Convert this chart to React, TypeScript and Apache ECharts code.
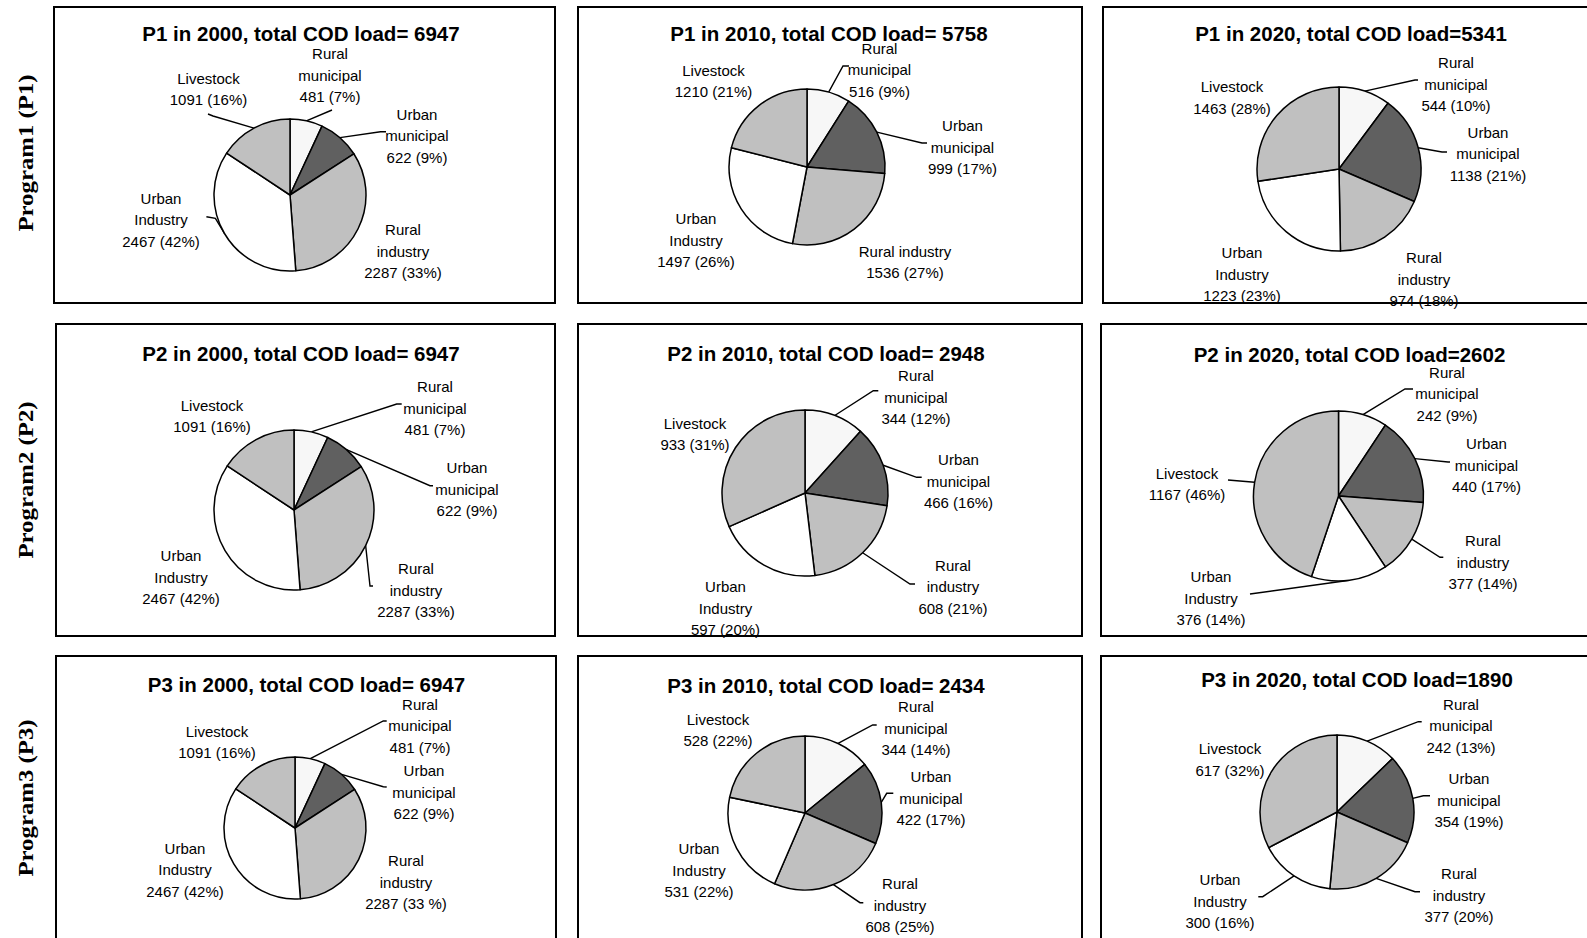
import { useEffect, useRef } from 'react';
import * as echarts from 'echarts';

// ---------- data ----------
const SECTORS = ['Rural municipal', 'Urban municipal', 'Rural industry', 'Urban Industry', 'Livestock'];
const NAMES_DEFAULT = ['Rural\nmunicipal', 'Urban\nmunicipal', 'Rural\nindustry', 'Urban\nIndustry', 'Livestock'];
const NAMES_P1_2010 = ['Rural\nmunicipal', 'Urban\nmunicipal', 'Rural industry', 'Urban\nIndustry', 'Livestock'];

const TITLES = [
  'P1 in 2000, total COD load= 6947',
  'P1 in 2010, total COD load= 5758',
  'P1 in 2020, total COD load=5341',
  'P2 in 2000, total COD load= 6947',
  'P2 in 2010, total COD load= 2948',
  'P2 in 2020, total COD load=2602',
  'P3 in 2000, total COD load= 6947',
  'P3 in 2010, total COD load= 2434',
  'P3 in 2020, total COD load=1890',
];
const ROW_LABELS = ['Program1 (P1)', 'Program2 (P2)', 'Program3 (P3)'];

const P1_2000 = [481, 622, 2287, 2467, 1091];
const P1_2010 = [516, 999, 1536, 1497, 1210];
const P1_2020 = [544, 1138, 974, 1223, 1463];
const P2_2000 = [481, 622, 2287, 2467, 1091];
const P2_2010 = [344, 466, 608, 597, 933];
const P2_2020 = [242, 440, 377, 376, 1167];
const P3_2000 = [481, 622, 2287, 2467, 1091];
const P3_2010 = [344, 422, 608, 531, 528];
const P3_2020 = [242, 354, 377, 300, 617];

const PCT_P1_2000 = ['7%', '9%', '33%', '42%', '16%'];
const PCT_P1_2010 = ['9%', '17%', '27%', '26%', '21%'];
const PCT_P1_2020 = ['10%', '21%', '18%', '23%', '28%'];
const PCT_P2_2000 = ['7%', '9%', '33%', '42%', '16%'];
const PCT_P2_2010 = ['12%', '16%', '21%', '20%', '31%'];
const PCT_P2_2020 = ['9%', '17%', '14%', '14%', '46%'];
const PCT_P3_2000 = ['7%', '9%', '33 %', '42%', '16%'];
const PCT_P3_2010 = ['14%', '17%', '25%', '22%', '22%'];
const PCT_P3_2020 = ['13%', '19%', '20%', '16%', '32%'];

const PANEL_VALUES = [P1_2000, P1_2010, P1_2020, P2_2000, P2_2010, P2_2020, P3_2000, P3_2010, P3_2020];
const PANEL_PCTS = [PCT_P1_2000, PCT_P1_2010, PCT_P1_2020, PCT_P2_2000, PCT_P2_2010, PCT_P2_2020, PCT_P3_2000, PCT_P3_2010, PCT_P3_2020];
const PANEL_NAMES = [NAMES_DEFAULT, NAMES_P1_2010, NAMES_DEFAULT, NAMES_DEFAULT, NAMES_DEFAULT, NAMES_DEFAULT, NAMES_DEFAULT, NAMES_DEFAULT, NAMES_DEFAULT];

// ---------- styles / layout ----------
const COLORS = ['#f7f7f7', '#606060', '#c0c0c0', '#ffffff', '#c0c0c0'];
const SANS = '"Liberation Sans", Arial, sans-serif';
const SERIF = '"Liberation Serif", "Times New Roman", serif';

const BOXES = [
  [54, 7, 501, 296], [578, 7, 504, 296], [1103, 7, 500, 296],
  [56, 324, 499, 312], [578, 324, 504, 312], [1101, 324, 500, 312],
  [56, 656, 500, 300], [578, 656, 504, 300], [1101, 656, 500, 300],
];
const TITLE_POS = [
  [301, 33.5], [829, 33.5], [1351, 33.5],
  [301, 353], [826, 353], [1349.5, 354],
  [306.5, 684.5], [826, 685], [1357, 679.5],
];
const ROW_POS = [[26, 153], [26, 480], [26, 798]];
const CENTERS = [
  [290, 195], [807, 167], [1339, 169],
  [294, 510], [805, 493], [1338.5, 496],
  [295, 828], [805, 813], [1337, 812],
];
const RADII = [76, 78, 82, 80, 83, 85, 71, 77, 77];

// label centres, order: RM, UM, RI, UI, LS
const LABEL_POS = [
  [[330, 75], [417, 135.5], [403, 251], [161, 219.5], [208.5, 89]],
  [[879.5, 69.5], [962.5, 147], [905, 262], [696, 240], [713.5, 81]],
  [[1456, 84], [1488, 153.5], [1424, 279], [1242, 274], [1232, 97.5]],
  [[435, 408], [467, 489], [416, 590], [181, 577], [212, 416]],
  [[916, 397], [958.5, 481], [953, 586.5], [725.5, 608], [695, 434]],
  [[1447, 393.5], [1486.5, 465], [1483, 562], [1211, 598], [1187, 484]],
  [[420, 725.5], [424, 792], [406, 882], [185, 869.5], [217, 742]],
  [[916, 728], [931, 798], [900, 905], [699, 870], [718, 730]],
  [[1461, 725.5], [1469, 800], [1459, 895], [1220, 901], [1230, 759.5]],
];
// leader line points after the slice anchor (null = no line)
const LINE_PTS: (number[][] | null)[][] = [
  [[[332, 110]], [[380.5, 131.7], [386, 131.7]], null, [[215.4, 218.3], [206.4, 216.7]], [[213, 116], [208, 114]]],
  [[[843, 66], [849, 66]], [[922, 143], [927, 143]], null, null, null],
  [[[1415, 80], [1418, 80]], [[1442, 152], [1447, 152]], null, null, null],
  [[[396.7, 404], [401.7, 404]], [[430, 485.7], [433, 485.7]], [[370, 586], [373, 586]], null, null],
  [[[873.3, 390.7], [878.3, 390.7]], [[916.7, 477.3], [921.7, 477.3]], [[910, 584], [915, 584]], null, null],
  [[[1405, 389], [1413, 389]], [[1448, 462], [1450, 462]], [[1440, 557.3], [1443.3, 557.3]], [[1250, 594]], [[1228, 480]]],
  [[[383.3, 721], [386.7, 721]], [[383.3, 786.7], [386.7, 787]], null, null, null],
  [[[872.7, 725], [876.7, 725]], [[886.7, 793.3], [893.3, 793.3]], [[860, 902.7], [863.3, 902.7]], null, null],
  [[[1418.3, 721.7], [1421.7, 721.7]], [[1423.3, 795.7], [1430, 795.7]], [[1415, 891.7], [1420, 891.7]], [[1262.7, 896.7], [1258.3, 896.7]], null],
];

export default function App() {
  const ref = useRef<HTMLDivElement>(null);

  useEffect(() => {
    if (!ref.current) return;
    const chart = echarts.init(ref.current, undefined, { renderer: 'svg', width: 1587, height: 938 });

    const series = PANEL_VALUES.map((values, pi) => {
      const labels = LABEL_POS[pi];
      const lines = LINE_PTS[pi];
      return {
        type: 'pie',
        silent: true,
        center: CENTERS[pi],
        radius: RADII[pi],
        startAngle: 90,
        clockwise: true,
        avoidLabelOverlap: false,
        itemStyle: { borderColor: '#000', borderWidth: 1.5 },
        label: {
          show: true,
          position: 'outside',
          color: '#000',
          fontFamily: SANS,
          fontSize: 15,
          lineHeight: 21.5,
          align: 'center',
        },
        labelLine: {
          show: true,
          length: 10,
          length2: 5,
          lineStyle: { color: '#000', width: 1.4 },
        },
        data: values.map((v, i) => ({
          value: v,
          name: SECTORS[i],
          itemStyle: { color: COLORS[i] },
          label: { formatter: `${PANEL_NAMES[pi][i]}\n${v} (${PANEL_PCTS[pi][i]})` },
          labelLine: { show: !!lines[i] },
        })),
        labelLayout: (p: any) => {
          const i = p.dataIndex;
          const pos = labels[i];
          const out: any = { x: pos[0], y: pos[1], align: 'center', verticalAlign: 'middle' };
          const ln = lines[i];
          if (ln && p.labelLinePoints && p.labelLinePoints.length) {
            out.labelLinePoints = [p.labelLinePoints[0], ...ln];
          }
          return out;
        },
      };
    });

    const graphic: any[] = [];
    BOXES.forEach((b) => {
      graphic.push({
        type: 'rect',
        z: 100,
        silent: true,
        shape: { x: b[0], y: b[1], width: b[2], height: b[3] },
        style: { fill: 'none', stroke: '#000', lineWidth: 2 },
      });
    });
    TITLES.forEach((t, i) => {
      graphic.push({
        type: 'text',
        z: 100,
        silent: true,
        x: TITLE_POS[i][0],
        y: TITLE_POS[i][1],
        style: {
          text: t,
          fill: '#000',
          font: `bold 20.5px ${SANS}`,
          align: 'center',
          verticalAlign: 'middle',
          textAlign: 'center',
          textVerticalAlign: 'middle',
        },
      });
    });
    ROW_LABELS.forEach((t, i) => {
      graphic.push({
        type: 'text',
        z: 100,
        silent: true,
        x: ROW_POS[i][0],
        y: ROW_POS[i][1],
        rotation: Math.PI / 2,
        scaleX: 1.24,
        style: {
          text: t,
          fill: '#000',
          font: `bold 20px ${SERIF}`,
          align: 'center',
          verticalAlign: 'middle',
          textAlign: 'center',
          textVerticalAlign: 'middle',
        },
      });
    });

    chart.setOption({
      animation: false,
      backgroundColor: '#fff',
      series,
      graphic,
    } as any);

    return () => chart.dispose();
  }, []);

  return (
    <div
      ref={ref}
      style={{ position: 'fixed', left: 0, top: 0, width: 1587, height: 938, background: '#fff' }}
    />
  );
}
